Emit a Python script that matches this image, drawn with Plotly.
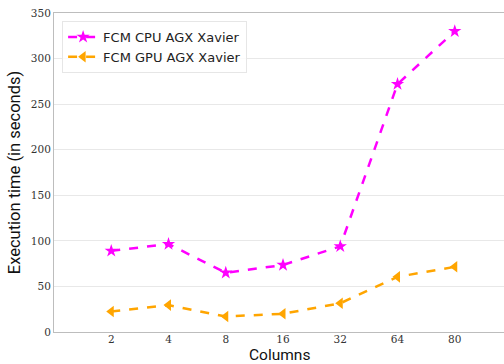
import plotly.graph_objects as go

# Execution time of FCM on the AGX Xavier, CPU vs GPU
columns = ["2", "4", "8", "16", "32", "64", "80"]
cpu_times = [89, 96.5, 65, 73.5, 94, 272, 330]
gpu_times = [22.5, 29.5, 17, 20, 31.5, 60.5, 71.5]

TITLE_FONT = "Liberation Sans Narrow, Roboto, sans-serif"
TICK_FONT = "DejaVu Serif"

fig = go.Figure()
fig.add_trace(go.Scatter(
    x=list(range(len(columns))), y=cpu_times, mode="lines+markers",
    name="FCM CPU AGX Xavier",
    line=dict(color="#ff00ff", width=2.5, dash="dash"),
    marker=dict(symbol="star", size=10, color="#ff00ff"),
))
fig.add_trace(go.Scatter(
    x=list(range(len(columns))), y=gpu_times, mode="lines+markers",
    name="FCM GPU AGX Xavier",
    line=dict(color="#ffa500", width=2.5, dash="dash"),
    marker=dict(symbol="triangle-left", size=10, color="#ffa500"),
))

fig.update_layout(
    width=504, height=364,
    margin=dict(l=54, r=0, t=13, b=32),
    paper_bgcolor="white", plot_bgcolor="white",
    showlegend=True,
    legend=dict(
        x=0.018, y=0.975, xanchor="left", yanchor="top",
        bgcolor="rgba(255,255,255,0.8)", bordercolor="#e6e6e6", borderwidth=1,
        font=dict(family="DejaVu Sans", size=13, color="#222222"),
        tracegroupgap=2,
    ),
)
# x-axis title drawn as a bottom-anchored annotation so it sits under the tick labels
fig.add_annotation(
    text="Columns", xref="paper", yref="paper", x=0.5, y=-32 / 319,
    xanchor="center", yanchor="bottom", showarrow=False, yshift=-1, borderpad=0,
    font=dict(family=TITLE_FONT, size=15.5, color="#111111"),
)
fig.update_xaxes(
    tickmode="array", tickvals=list(range(len(columns))), ticktext=columns,
    range=[-1, 6.86], showgrid=False, zeroline=False,
    showline=True, linecolor="#bdbdbd", linewidth=1, mirror=True,
    ticks="", ticklabelstandoff=-3,
    tickfont=dict(family=TICK_FONT, size=10.5, color="#333333"),
)
fig.update_yaxes(
    range=[0, 350], dtick=50, showgrid=True, gridcolor="#e8e8e8", gridwidth=1,
    zeroline=False, showline=True, linecolor="#bdbdbd", linewidth=1, mirror=True,
    ticks="", tickfont=dict(family=TICK_FONT, size=10.5, color="#333333"),
    title=dict(text="Execution time (in seconds)", font=dict(family=TITLE_FONT, size=16.5, color="#111111"), standoff=6),
)

fig.write_html("out.html")
